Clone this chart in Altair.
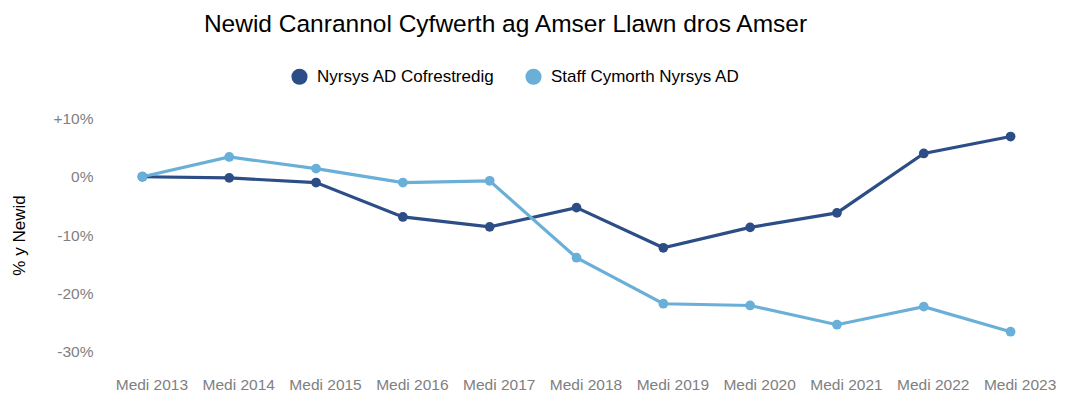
import altair as alt
import pandas as pd

years = ["Medi 2013", "Medi 2014", "Medi 2015", "Medi 2016", "Medi 2017", "Medi 2018",
         "Medi 2019", "Medi 2020", "Medi 2021", "Medi 2022", "Medi 2023"]
series_names = ["Nyrsys AD Cofrestredig", "Staff Cymorth Nyrsys AD"]
registered = [0.0, -0.2, -1.0, -6.9, -8.6, -5.3, -12.2, -8.7, -6.2, 4.0, 6.9]
support = [0.0, 3.4, 1.4, -1.0, -0.7, -13.9, -21.8, -22.1, -25.4, -22.3, -26.6]
colors = ["#2c4d85", "#6aafd8"]

rows = []
for name, vals in zip(series_names, [registered, support]):
    for y, v in zip(years, vals):
        rows.append({"Blwyddyn": y, "Cyfres": name, "Newid": v})
df = pd.DataFrame(rows)

FONT = "Liberation Sans"

x = alt.X("Blwyddyn:N", sort=years, title=None,
          scale=alt.Scale(type="point", padding=0.5),
          axis=alt.Axis(labelAngle=0, labelColor="#808080", labelFontSize=15.5, labelFont=FONT,
                        ticks=False, domain=False, grid=False, labelPadding=8, labelOffset=9))
y = alt.Y("Newid:Q", title="% y Newid",
          scale=alt.Scale(domain=[-33, 13], nice=False, zero=False),
          axis=alt.Axis(values=[10, 0, -10, -20, -30],
                        labelExpr="datum.value > 0 ? '+' + datum.value + '%' : datum.value + '%'",
                        labelColor="#808080", labelFontSize=15.5, labelFont=FONT,
                        ticks=False, domain=False, grid=False, labelPadding=6,
                        titleFontSize=17, titleFont=FONT, titleFontWeight="normal",
                        titleColor="#000000", titlePadding=24))
color = alt.Color("Cyfres:N", sort=series_names,
                  scale=alt.Scale(domain=series_names, range=colors),
                  legend=alt.Legend(title=None, orient="none", direction="horizontal",
                                    legendX=192, legendY=-33, symbolType="circle",
                                    symbolSize=260, symbolStrokeWidth=0,
                                    labelFontSize=17, labelFont=FONT, labelColor="#000000",
                                    labelLimit=400, columnPadding=30, labelOffset=9))

base = alt.Chart(df).encode(x=x, y=y, color=color)
lines = base.mark_line(strokeWidth=3.2)
points = base.mark_circle(size=95, opacity=1)

chart = alt.layer(lines, points).properties(
    width=955, height=268,
    title=alt.TitleParams("Newid Canrannol Cyfwerth ag Amser Llawn dros Amser",
                          fontSize=24.5, font=FONT, fontWeight="normal", color="#000000",
                          anchor="middle", dx=-71, offset=31),
    autosize=alt.AutoSizeParams(type="none"),
    padding={"left": 91, "top": 93, "right": 28, "bottom": 30},
).configure(background="white", view=alt.ViewConfig(stroke=None, strokeWidth=0))

chart.save("out.html", embed_options={"renderer": "svg", "actions": False})
